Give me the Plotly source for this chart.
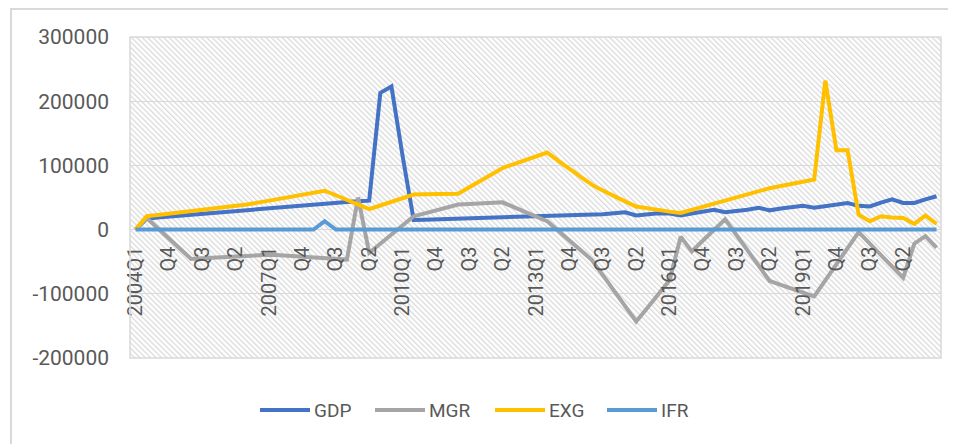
import base64
import plotly.graph_objects as go

# ---------------- data ----------------
YEARS = list(range(2004, 2023))
CATEGORIES = []
for y in YEARS:
    for q in range(1, 5):
        CATEGORIES.append(f"{y}Q1" if q == 1 else f"Q{q}")
CATEGORIES = CATEGORIES[:73]          # 2004Q1 .. 2022Q1

GDP = [0,
       17000, 19000, 20500, 22000, 23500, 25000, 26500, 28000, 29500, 31000, 32500, 34000,
       35500, 37000, 38500, 40000, 41000,
       42000, 43000, 44000, 45000,
       213000, 223000, 115000,
       15000, 15500, 16000, 16500, 17000, 17300, 17600, 18000, 18000, 18500, 19000, 20000,
       21000, 21500, 22000, 22500, 23000, 24000, 25500, 27000, 22000, 24000, 25500, 25000,
       22000, 25000, 28000, 31000, 27000, 28500, 31000, 34000, 30000, 33000, 35000, 37000,
       34000, 37000, 40000, 41500, 37000, 36000, 42000, 47000, 41500, 41500, 47000, 52000]

MGR = [0,
       18000, 2000, -14000, -30000, -45700,
       -44700, -43700, -42600, -41500, -40800, -40000, -39200, -40000, -41000, -42000,
       -43000, -44000, -45500, -46700,
       50000, -36000,
       -22000, -8000, 6500, 20800,
       25300, 29800, 34300, 39000, 40000, 41000, 42000, 42500,
       35000, 27500, 20000, 13000, -2000, -17000, -32000, -47000, -71000, -95000, -119000, -143000,
       -122000, -100000, -79000, -11000,
       -34000, -17000, 0, 16000, -8000, -32000, -56000, -80000, -86000, -92000, -98000,
       -104000, -79000, -54000, -29000, -4000, -22000, -40000, -58000, -75000, -22000,
       -10000, -28000]

EXG = [0,
       20800, 22700, 24600, 26500, 28400, 30300, 32200, 34100, 36000,
       39000, 42000, 45000, 48000, 51500, 54500, 57500, 60500,
       53500, 46500, 39000, 32000,
       37500, 43000, 49000, 54500,
       55000, 55500, 55700, 56000,
       66000, 76000, 86000, 96000, 102000, 108000, 114000, 120000,
       107000, 95000, 82000, 70000, 61000, 52000, 44000, 36000, 33000, 30000, 28000,
       26000, 31000, 36000, 41000, 46000, 51000, 56000, 61000, 64500, 68000, 71500, 75000, 78000,
       232000, 123500, 123500, 23000, 13000, 20800, 19000, 18000, 9000, 22000, 9000]

IFR = [0] * 17 + [13000] + [0] * 55

SERIES_NAMES = ["GDP", "MGR", "EXG", "IFR"]
SERIES_VALUES = [GDP, MGR, EXG, IFR]
SERIES_COLORS = ["#4472C4", "#A5A5A5", "#FFC000", "#5B9BD5"]

Y_TICKS = [-200000, -100000, 0, 100000, 200000, 300000]
X_TICK_STEP = 3
X_TICK_LAST = 69

# ---------------- layout constants (figure px) ----------------
W, H = 956, 444
ML, MR, MT, MB = 122, 23, 29, 94
PW, PH = W - ML - MR, H - MT - MB
TEXT = "#595959"
FONT = "Roboto"
LEG_Y = 402
LEG_X = [252, 367, 487, 599]
LEG_SAMPLE = 50
LEG_GAP = 2


def px2x(p):
    return (p - ML) / PW


def py2y(p):
    return (H - MB - p) / PH


x = list(range(len(CATEGORIES)))
fig = go.Figure()
for name, vals, col in zip(SERIES_NAMES, SERIES_VALUES, SERIES_COLORS):
    fig.add_trace(go.Scatter(x=x, y=vals, name=name, mode="lines",
                             line=dict(color=col, width=4), showlegend=False))

ymin, ymax = Y_TICKS[0], Y_TICKS[-1]
tickvals = list(range(0, X_TICK_LAST + 1, X_TICK_STEP))

# hatched plot-area background
svg = (f'<svg xmlns="http://www.w3.org/2000/svg" width="{PW}" height="{PH}">'
       '<defs><pattern id="p" width="3.8" height="6" patternUnits="userSpaceOnUse" '
       'patternTransform="rotate(-45)">'
       '<rect width="3.8" height="6" fill="#ffffff"/>'
       '<rect width="1.3" height="6" fill="#dadada"/></pattern></defs>'
       '<rect width="100%" height="100%" fill="url(#p)"/></svg>')
src = "data:image/svg+xml;base64," + base64.b64encode(svg.encode()).decode()

shapes = [
    dict(type="rect", xref="paper", yref="paper", x0=0, x1=1, y0=0, y1=1,
         line=dict(color="#D9D9D9", width=1.5), layer="above"),
    dict(type="rect", xref="paper", yref="paper",
         x0=px2x(3), x1=px2x(970), y0=py2y(1), y1=py2y(460),
         line=dict(color="#D9D9D9", width=2), layer="below"),
]
annotations = []
for name, col, lx in zip(SERIES_NAMES, SERIES_COLORS, LEG_X):
    shapes.append(dict(type="line", xref="paper", yref="paper",
                       x0=px2x(lx), x1=px2x(lx + LEG_SAMPLE),
                       y0=py2y(LEG_Y), y1=py2y(LEG_Y),
                       line=dict(color=col, width=4)))
    annotations.append(dict(xref="paper", yref="paper",
                            x=px2x(lx + LEG_SAMPLE + LEG_GAP), y=py2y(LEG_Y),
                            xanchor="left", yanchor="middle", showarrow=False,
                            text=name, font=dict(size=19, color=TEXT, family=FONT)))

fig.update_layout(
    width=W, height=H,
    margin=dict(l=ML, r=MR, t=MT, b=MB),
    paper_bgcolor="white",
    plot_bgcolor="rgba(0,0,0,0)",
    font=dict(family=FONT, color=TEXT, size=20),
    images=[dict(source=src, xref="paper", yref="paper", x=0, y=1,
                 sizex=1, sizey=1, sizing="stretch", layer="below",
                 xanchor="left", yanchor="top")],
    xaxis=dict(range=[-0.5, len(CATEGORIES) - 0.6],
               tickvals=tickvals, ticktext=[CATEGORIES[i] for i in tickvals],
               tickangle=-90, anchor="free",
               position=(0 - ymin) / (ymax - ymin),
               showgrid=False, zeroline=False, showline=False, ticks="",
               ticklabelstandoff=12, tickfont=dict(size=20, color=TEXT)),
    yaxis=dict(range=[ymin, ymax], tickvals=Y_TICKS,
               ticktext=[str(v) for v in Y_TICKS],
               showgrid=True, gridcolor="#D9D9D9", gridwidth=1,
               zeroline=False, showline=False, ticks="",
               ticklabelstandoff=20, tickfont=dict(size=21, color=TEXT)),
    showlegend=False,
    shapes=shapes,
    annotations=annotations,
)

fig.write_html("out.html")
